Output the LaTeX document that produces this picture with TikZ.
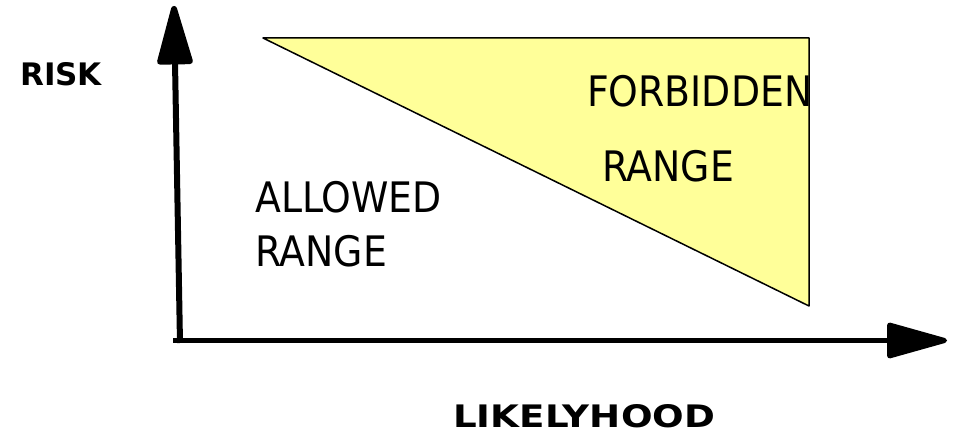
\documentclass[tikz,border=0pt]{standalone}
\usepackage{fontspec}
\setmainfont{DejaVu Sans Condensed}
\newfontfamily\axisfont{DejaVu Sans}
\usetikzlibrary{arrows.meta,positioning}
\definecolor{forbiddenyellow}{RGB}{255,255,153}

\begin{document}
\begin{tikzpicture}[x=1pt, y=-1pt,
		axisline/.style={line cap=butt, -{Triangle[length=67pt,width=36pt,round]}},
		rangetext/.style={anchor=base west, inner sep=0pt, font=\fontsize{42}{42}\selectfont},
		axistext/.style={anchor=base west, inner sep=0pt, font=\fontsize{31}{31}\selectfont\axisfont\bfseries}]
		\useasboundingbox (0,0) rectangle (953,443);
		
		% axes
		\coordinate (origin) at (180,343);
		\coordinate (risktip) at (174,6);
		\coordinate (xstart) at (173,340.5);
		\coordinate (liketip) at (947,340.5);
		
		% forbidden triangle
		\coordinate (tl) at (263,38);
		\coordinate (tr) at (809,38);
		\coordinate (br) at (809,306);
		\draw[line width=1.5pt, line join=round, fill=forbiddenyellow] (tl) -- (tr) -- (br) -- cycle;
		
		\draw[axisline, line width=6pt] (origin) -- (risktip);
		\draw[axisline, line width=5pt] (xstart) -- (liketip);
		
		% texts
		\node[axistext] (risk) at (20,86) {RISK};
		\node[axistext, xscale=1.2, transform shape] (likely) at (453,428) {LIKELYHOOD};
		\node[rangetext] (allowed) at (255,213) {ALLOWED};
		\node[rangetext] (allowedrange) at (255,267) {RANGE};
		\node[rangetext] (forbidden) at (587,107) {FORBIDDEN};
		\node[rangetext] (forbiddenrange) at (602,182) {RANGE};
	\end{tikzpicture}
\end{document}
